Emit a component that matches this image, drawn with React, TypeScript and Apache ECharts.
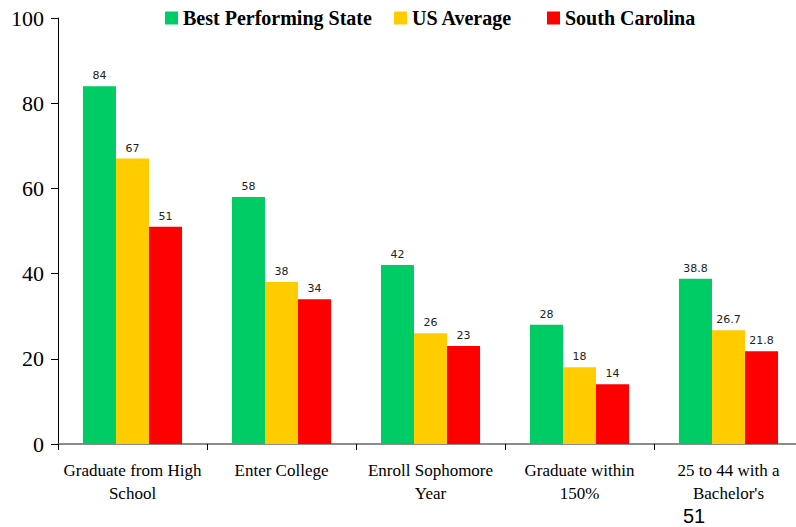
import React, { useEffect, useRef } from "react";
import * as echarts from "echarts";

const categories = [
  "Graduate from High\nSchool",
  "Enter College",
  "Enroll Sophomore\nYear",
  "Graduate within\n150%",
  "25 to 44 with a\nBachelor's",
];
const bestState = [84, 58, 42, 28, 38.8];
const usAverage = [67, 38, 26, 18, 26.7];
const southCarolina = [51, 34, 23, 14, 21.8];
const seriesNames = ["Best Performing State", "US Average", "South Carolina"];
const colors = ["#00CC66", "#FFCC00", "#FF0000"];

export default function App() {
  const ref = useRef<HTMLDivElement>(null);
  useEffect(() => {
    if (!ref.current) return;
    const chart = echarts.init(ref.current, undefined, { renderer: "svg" });
    const label = {
      show: true,
      position: "top",
      distance: 5,
      fontFamily: "DejaVu Sans",
      fontSize: 11,
      color: "#222",
    };
    const legendText = {
      fontFamily: "Liberation Serif",
      fontWeight: "bold",
      fontSize: 20,
      color: "#000",
    };
    const legendLefts = [165, 394, 547];
    chart.setOption({
      animation: false,
      backgroundColor: "#fff",
      legend: seriesNames.map((n, i) => ({
        left: legendLefts[i],
        top: 8,
        padding: 0,
        itemWidth: 13,
        itemHeight: 13,
        itemGap: 5,
        icon: "rect",
        data: [n],
        textStyle: legendText,
      })),
      grid: { left: 58, top: 18, bottom: 83, right: 0, containLabel: false },
      xAxis: {
        type: "category",
        data: categories,
        axisLine: { lineStyle: { color: "#666", width: 1.5 } },
        axisTick: { show: true, length: 6, lineStyle: { color: "#000" } },
        axisLabel: {
          interval: 0,
          margin: 15,
          fontFamily: "Liberation Serif",
          fontSize: 17,
          lineHeight: 23,
          color: "#000",
        },
      },
      yAxis: {
        type: "value",
        min: 0,
        max: 100,
        interval: 20,
        splitLine: { show: false },
        axisLine: { show: true, lineStyle: { color: "#000" } },
        axisTick: { show: true, length: 7, lineStyle: { color: "#000" } },
        axisLabel: {
          margin: 14,
          fontFamily: "Liberation Serif",
          fontSize: 22,
          color: "#000",
        },
      },
      series: [
        { name: seriesNames[0], type: "bar", data: bestState, itemStyle: { color: colors[0] }, label, barGap: "0%", barCategoryGap: "33.5%" },
        { name: seriesNames[1], type: "bar", data: usAverage, itemStyle: { color: colors[1] }, label, barGap: "0%", barCategoryGap: "33.5%" },
        { name: seriesNames[2], type: "bar", data: southCarolina, itemStyle: { color: colors[2] }, label, barGap: "0%", barCategoryGap: "33.5%" },
      ],
      graphic: [
        {
          type: "text",
          left: 683,
          top: 506,
          style: { text: "51", font: "20px 'Liberation Sans'", fill: "#000" },
        },
      ],
    });
    return () => chart.dispose();
  }, []);
  return (
    <div
      style={{ position: "fixed", left: 0, top: 0, width: 796, height: 527, overflow: "hidden", background: "#fff" }}
    >
      <div ref={ref} style={{ width: 803, height: 527 }} />
    </div>
  );
}
